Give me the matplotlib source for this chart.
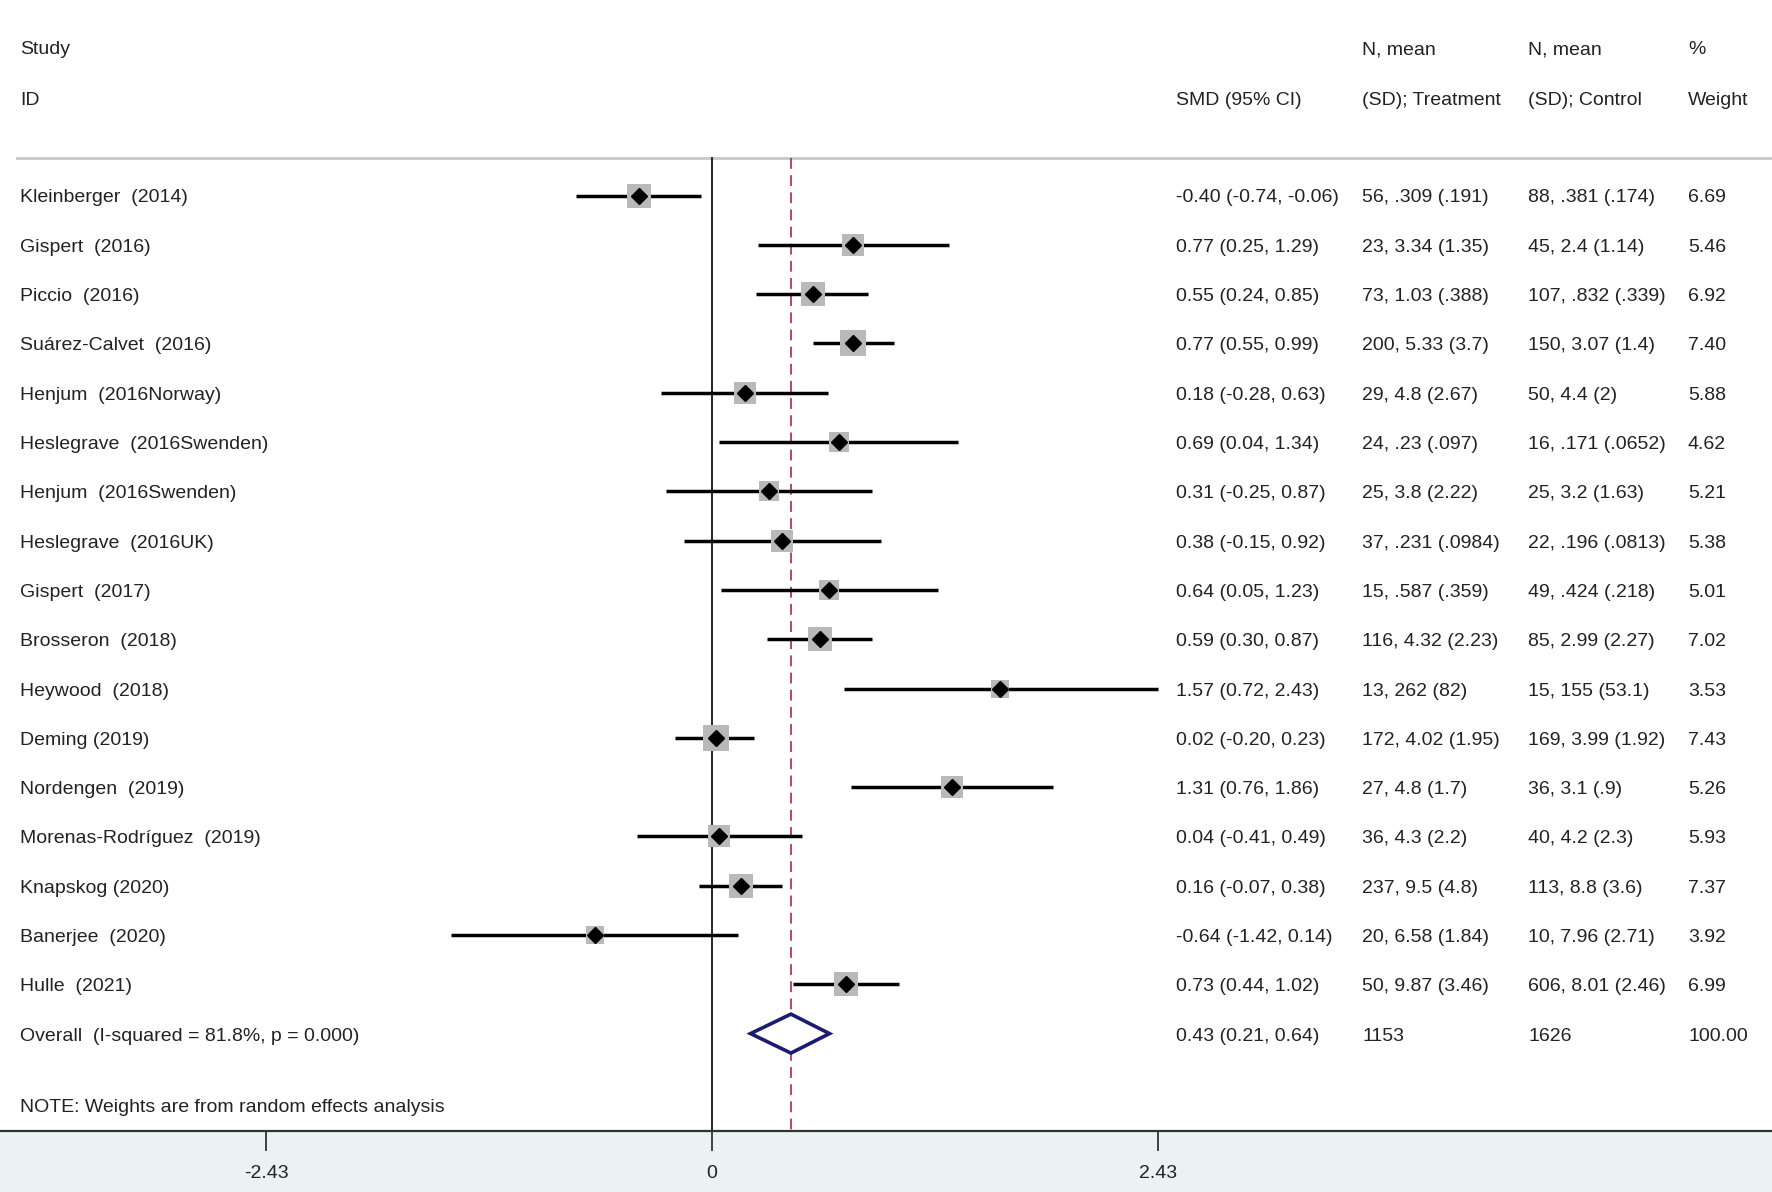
import matplotlib
matplotlib.use("Agg")
import matplotlib.pyplot as plt
from matplotlib.transforms import blended_transform_factory
import numpy as np

plt.rcParams['font.family'] = ['Liberation Sans', 'DejaVu Sans']

# study data
studies = ["Kleinberger  (2014)", "Gispert  (2016)", "Piccio  (2016)", "Suárez-Calvet  (2016)",
           "Henjum  (2016Norway)", "Heslegrave  (2016Swenden)", "Henjum  (2016Swenden)",
           "Heslegrave  (2016UK)", "Gispert  (2017)", "Brosseron  (2018)", "Heywood  (2018)",
           "Deming (2019)", "Nordengen  (2019)", "Morenas-Rodríguez  (2019)", "Knapskog (2020)",
           "Banerjee  (2020)", "Hulle  (2021)"]
smd = [-0.40, 0.77, 0.55, 0.77, 0.18, 0.69, 0.31, 0.38, 0.64, 0.59, 1.57, 0.02, 1.31, 0.04, 0.16, -0.64, 0.73]
lo = [-0.74, 0.25, 0.24, 0.55, -0.28, 0.04, -0.25, -0.15, 0.05, 0.30, 0.72, -0.20, 0.76, -0.41, -0.07, -1.42, 0.44]
hi = [-0.06, 1.29, 0.85, 0.99, 0.63, 1.34, 0.87, 0.92, 1.23, 0.87, 2.43, 0.23, 1.86, 0.49, 0.38, 0.14, 1.02]
treat = ["56, .309 (.191)", "23, 3.34 (1.35)", "73, 1.03 (.388)", "200, 5.33 (3.7)", "29, 4.8 (2.67)",
         "24, .23 (.097)", "25, 3.8 (2.22)", "37, .231 (.0984)", "15, .587 (.359)", "116, 4.32 (2.23)",
         "13, 262 (82)", "172, 4.02 (1.95)", "27, 4.8 (1.7)", "36, 4.3 (2.2)", "237, 9.5 (4.8)",
         "20, 6.58 (1.84)", "50, 9.87 (3.46)"]
control = ["88, .381 (.174)", "45, 2.4 (1.14)", "107, .832 (.339)", "150, 3.07 (1.4)", "50, 4.4 (2)",
           "16, .171 (.0652)", "25, 3.2 (1.63)", "22, .196 (.0813)", "49, .424 (.218)", "85, 2.99 (2.27)",
           "15, 155 (53.1)", "169, 3.99 (1.92)", "36, 3.1 (.9)", "40, 4.2 (2.3)", "113, 8.8 (3.6)",
           "10, 7.96 (2.71)", "606, 8.01 (2.46)"]
weights = [6.69, 5.46, 6.92, 7.40, 5.88, 4.62, 5.21, 5.38, 5.01, 7.02, 3.53, 7.43, 5.26, 5.93, 7.37, 3.92, 6.99]

overall_label = "Overall  (I-squared = 81.8%, p = 0.000)"
overall_smd, overall_lo, overall_hi = 0.43, 0.21, 0.64
overall_treat, overall_control, overall_weight = "1153", "1626", "100.00"
xticks = [-2.43, 0, 2.43]

W, H = 1772, 1192
fig = plt.figure(figsize=(W / 100, H / 100), dpi=100)
ax = fig.add_axes([0, 0, 1, 1])
ppu = (1158 - 712) / 2.43  # pixels per SMD unit
ax.set_xlim(-712 / ppu, (W - 712) / ppu)
ax.set_ylim(H, 0)
ax.axis('off')
tr = blended_transform_factory(ax.transAxes, ax.transData)

y0, step = 195.5, 49.3
rows = y0 + step * np.arange(len(studies))
y_over = y0 + step * len(studies)
dy = 2.5  # text sits a touch lower than the marks
txt = dict(fontsize=14, color='#222222', va='center', transform=tr)
col_x = [20 / W, 1176 / W, 1362 / W, 1528 / W, 1688 / W]

# header
ax.text(col_x[0], 50, "Study", **txt)
ax.text(col_x[0], 100.5, "ID", **txt)
ax.text(col_x[1], 100.5, "SMD (95% CI)", **txt)
ax.text(col_x[2], 50, "N, mean", **txt)
ax.text(col_x[2], 100.5, "(SD); Treatment", **txt)
ax.text(col_x[3], 50, "N, mean", **txt)
ax.text(col_x[3], 100.5, "(SD); Control", **txt)
ax.text(col_x[4], 50, "%", **txt)
ax.text(col_x[4], 100.5, "Weight", **txt)
ax.plot([17 / W, 1770 / W], [158, 158], color='#c8c8c8', lw=2, transform=tr)

# reference lines
ax.plot([0, 0], [158, 1131], color='black', lw=1.2, zorder=2)
ax.plot([overall_smd, overall_smd], [158, 1131], color='#b03a4e', lw=1.3,
        dashes=(6, 3.5), zorder=2)

# studies
for i in range(len(studies)):
    y = rows[i]
    ax.plot([lo[i], hi[i]], [y, y], color='black', lw=2.5, solid_capstyle='butt', zorder=3)
    side_pt = 9.2 * np.sqrt(weights[i]) * 0.72
    ax.scatter([smd[i]], [y], marker='s', s=side_pt ** 2, color='#b9b9b9', zorder=3, linewidths=0)
    ax.plot([smd[i]], [y], marker='D', ms=8.4, color='black', zorder=4)
    ax.text(col_x[0], y + dy, studies[i], **txt)
    ax.text(col_x[1], y + dy, f"{smd[i]:.2f} ({lo[i]:.2f}, {hi[i]:.2f})", **txt)
    ax.text(col_x[2], y + dy, treat[i], **txt)
    ax.text(col_x[3], y + dy, control[i], **txt)
    ax.text(col_x[4], y + dy, f"{weights[i]:.2f}", **txt)

# overall diamond
ax.fill([overall_lo, overall_smd, overall_hi, overall_smd, overall_lo],
        [y_over, y_over - 19.5, y_over, y_over + 19.5, y_over],
        facecolor='white', edgecolor='#1b1b6f', lw=2.6, zorder=5)
ax.text(col_x[0], y_over + dy, overall_label, **txt)
ax.text(col_x[1], y_over + dy, f"{overall_smd:.2f} ({overall_lo:.2f}, {overall_hi:.2f})", **txt)
ax.text(col_x[2], y_over + dy, overall_treat, **txt)
ax.text(col_x[3], y_over + dy, overall_control, **txt)
ax.text(col_x[4], y_over + dy, overall_weight, **txt)
ax.text(col_x[0], 1108, "NOTE: Weights are from random effects analysis", **txt)

# bottom axis band
ax.axhspan(1131, H, color='#eaf2f3', zorder=1)
ax.plot([0, 1], [1131, 1131], color='#333333', lw=1.6, transform=tr, zorder=6)
for t in xticks:
    ax.plot([t, t], [1131, 1150], color='#333333', lw=1.3, zorder=6)
    ax.text(t, 1174, f"{t:g}", fontsize=14, color='#222222', ha='center', va='center')

fig.savefig("out.png", dpi=100)
